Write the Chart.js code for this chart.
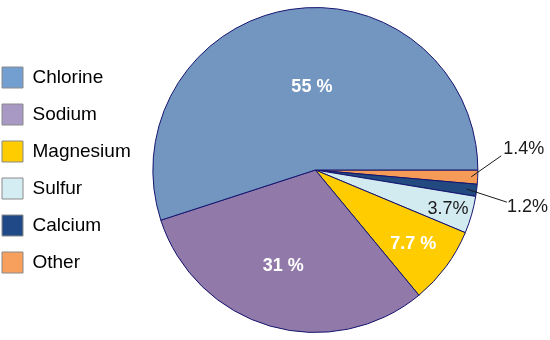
<!DOCTYPE html>
<html>
<head>
<meta charset="utf-8">
<script src="https://cdn.jsdelivr.net/npm/chart.js@4/dist/chart.umd.min.js"></script>
<style>
    html, body { margin: 0; padding: 0; background: #fff; }
</style>
</head>
<body>
<canvas id="pieChart" width="550" height="340"></canvas>
<script>
const elements = ['Chlorine', 'Sodium', 'Magnesium', 'Sulfur', 'Calcium', 'Other'];
const shares = [55, 31, 7.7, 3.7, 1.2, 1.4];

const sliceColors = ['#7396c0', '#9179a9', '#ffcc00', '#d2ebf1', '#234a80', '#f69a58'];
const legendColors = ['#729fcf', '#a899c4', '#ffcc00', '#d4edf3', '#204a87', '#f79f5c'];

// how each percentage is written (position / style only)
const labelStyles = [
    { mode: 'in', r: 0.53, ox: 10, oy: 2, color: '#fff', bold: true, sep: ' ' },
    { mode: 'in', r: 0.62, ox: -4, oy: -1, color: '#fff', bold: true, sep: ' ' },
    { mode: 'in', r: 0.75, ox: 0, oy: 1, color: '#fff', bold: true, sep: ' ' },
    { mode: 'in', r: 0.85, ox: 0, oy: 1, color: '#1a1a1a', bold: false, sep: '' },
    { mode: 'out', r: 0.94, dx: 40, dy: 13, tx: 0, ty: 5, color: '#1a1a1a' },
    { mode: 'out', r: 0.96, dx: 30, dy: -21, tx: 2, ty: -7, color: '#1a1a1a' }
];

// the picture runs counter-clockwise from 3 o'clock, Chart.js goes clockwise,
// so the slices are fed in reverse
const rev = arr => arr.slice().reverse();

const sliceLabels = {
    id: 'sliceLabels',
    afterDatasetsDraw(chart) {
        const ctx = chart.ctx;
        const arcs = chart.getDatasetMeta(0).data;
        ctx.save();
        arcs.forEach(function(arc, j) {
            const i = elements.length - 1 - j;
            const st = labelStyles[i];
            const mid = (arc.startAngle + arc.endAngle) / 2;
            const rad = arc.outerRadius * st.r;
            const px = arc.x + Math.cos(mid) * rad;
            const py = arc.y + Math.sin(mid) * rad;
            const text = String(shares[i]) + (st.sep || '') + '%';
            ctx.fillStyle = st.color;
            if (st.mode === 'in') {
                ctx.font = (st.bold ? 'bold ' : '') + '18px "Liberation Sans", Arial, sans-serif';
                ctx.textAlign = 'center';
                ctx.textBaseline = 'middle';
                ctx.fillText(text, px + st.ox, py + st.oy);
            } else {
                const ex = px + st.dx;
                const ey = py + st.dy;
                ctx.strokeStyle = '#1a1a1a';
                ctx.lineWidth = 1;
                ctx.beginPath();
                ctx.moveTo(px, py);
                ctx.lineTo(ex, ey);
                ctx.stroke();
                ctx.font = '18px "Liberation Sans", Arial, sans-serif';
                ctx.textAlign = 'left';
                ctx.textBaseline = 'middle';
                ctx.fillText(text, ex + st.tx, ey + st.ty);
            }
        });
        ctx.restore();
    }
};

const ctx = document.getElementById('pieChart').getContext('2d');
new Chart(ctx, {
    type: 'pie',
    data: {
        labels: rev(elements),
        datasets: [{
            data: rev(shares),
            backgroundColor: rev(sliceColors),
            borderColor: '#14146e',
            borderWidth: 1
        }]
    },
    options: {
        responsive: false,
        animation: false,
        devicePixelRatio: 1,
        rotation: 90,
        layout: {
            padding: { left: -14, right: 60, top: 7, bottom: 7 }
        },
        plugins: {
            tooltip: { enabled: false },
            legend: {
                position: 'left',
                align: 'center',
                labels: {
                    boxWidth: 21,
                    boxHeight: 21,
                    padding: 16,
                    color: '#1a1a1a',
                    font: { family: '"Liberation Sans", Arial, sans-serif', size: 19 },
                    generateLabels: function() {
                        return elements.map(function(name, i) {
                            return {
                                text: name,
                                fillStyle: legendColors[i],
                                strokeStyle: '#8a8a8a',
                                lineWidth: 1,
                                hidden: false,
                                index: elements.length - 1 - i
                            };
                        });
                    }
                }
            }
        }
    },
    plugins: [sliceLabels]
});
</script>
</body>
</html>
